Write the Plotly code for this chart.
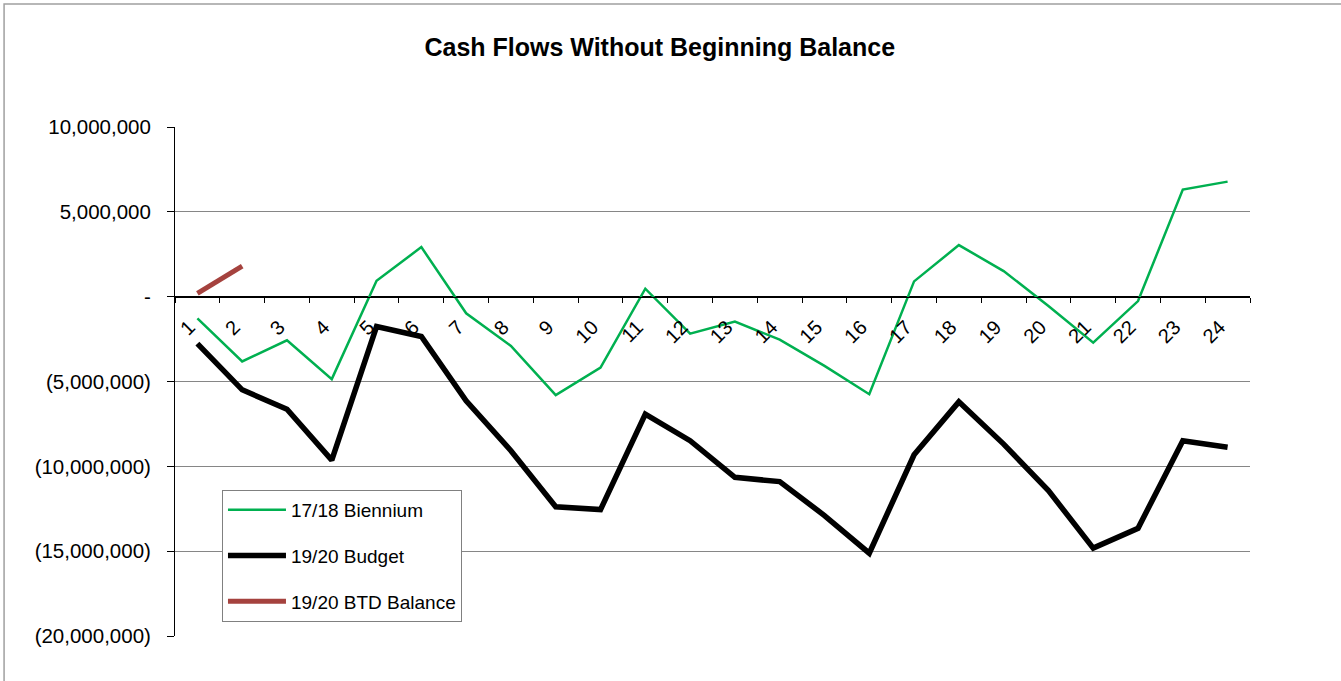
"""Cash flows without beginning balance - line chart."""
import plotly.graph_objects as go

# ---- data -----------------------------------------------------------------
months = [str(i) for i in range(1, 25)]

biennium_17_18 = [
    -1_280_000, -3_820_000, -2_570_000, -4_860_000, 940_000, 2_920_000,
    -980_000, -2_900_000, -5_800_000, -4_180_000, 470_000, -2_180_000,
    -1_470_000, -2_530_000, -4_080_000, -5_750_000, 900_000, 3_040_000,
    1_510_000, -550_000, -2_710_000, -260_000, 6_310_000, 6_780_000,
]
budget_19_20 = [
    -2_770_000, -5_490_000, -6_630_000, -9_630_000, -1_760_000, -2_350_000,
    -6_140_000, -9_080_000, -12_380_000, -12_550_000, -6_920_000, -8_490_000,
    -10_650_000, -10_900_000, -12_900_000, -15_120_000, -9_320_000, -6_200_000,
    -8_690_000, -11_430_000, -14_820_000, -13_650_000, -8_490_000, -8_880_000,
]
btd_balance_19_20 = [190_000, 1_800_000]

y_ticks = [10_000_000, 5_000_000, 0, -5_000_000, -10_000_000, -15_000_000, -20_000_000]
y_tick_text = ["10,000,000", "5,000,000", "-", "(5,000,000)", "(10,000,000)",
               "(15,000,000)", "(20,000,000)"]

# ---- style ----------------------------------------------------------------
FONT = "Arial, 'Liberation Sans', sans-serif"
GREEN = "#00B050"
BLACK = "#000000"
RED = "#A5423E"
GRID = "#868686"

Y_MIN, Y_MAX = -20_000_000, 10_000_000

fig = go.Figure()
fig.add_trace(go.Scatter(x=months, y=biennium_17_18, mode="lines", name="17/18 Biennium",
                         legendgroup="a", line=dict(color=GREEN, width=2.5)))
fig.add_trace(go.Scatter(x=months, y=budget_19_20, mode="lines", name="19/20 Budget",
                         legendgroup="b", line=dict(color=BLACK, width=5.5)))
fig.add_trace(go.Scatter(x=months[:len(btd_balance_19_20)], y=btd_balance_19_20,
                         mode="lines", name="19/20 BTD Balance", legendgroup="c",
                         line=dict(color=RED, width=5)))

# category axis crosses the value axis at zero, as in the spreadsheet chart
zero_pos = (0 - Y_MIN) / (Y_MAX - Y_MIN)

fig.update_layout(
    width=1341, height=681,
    paper_bgcolor="white", plot_bgcolor="white",
    margin=dict(l=175, r=91, t=127, b=45),
    font=dict(family=FONT, color="black"),
    title=dict(text="<b>Cash Flows Without Beginning Balance</b>",
               font=dict(size=25, family=FONT, color="black"),
               x=0.492, xanchor="center", xref="container",
               y=0.931, yanchor="middle", yref="container"),
    showlegend=True,
    legend=dict(x=0.0437, y=0.287, xanchor="left", yanchor="top",
                bgcolor="white", bordercolor="#808080", borderwidth=1,
                font=dict(size=19, family=FONT, color="black"),
                itemwidth=58, tracegroupgap=18, traceorder="grouped"),
    hovermode=False,
    xaxis=dict(type="category", anchor="free", position=zero_pos,
               showline=True, linecolor="black", linewidth=1,
               showgrid=False, ticks="outside", tickson="boundaries",
               ticklen=5, tickcolor="black", tickangle=-45,
               ticklabelstandoff=10, ticklabelshift=-8,
               tickfont=dict(size=20, family=FONT, color="black"),
               range=[-0.5, 23.5]),
    yaxis=dict(range=[Y_MIN, Y_MAX], tickvals=y_ticks, ticktext=y_tick_text,
               showline=True, linecolor="black", linewidth=1,
               showgrid=True, gridcolor=GRID, gridwidth=1,
               zeroline=True, zerolinecolor="black", zerolinewidth=1,
               ticks="outside", ticklen=7, tickcolor="black",
               ticklabelstandoff=12,
               tickfont=dict(size=20.5, family=FONT, color="black")),
)

# thin frame around the chart area
fig.add_shape(type="rect", xref="paper", yref="paper",
              x0=-0.159, x1=1.2, y0=-0.2, y1=1.2417,
              line=dict(color="#A0A0A0", width=1.5), layer="below")

# page has a default body margin; drop it so the figure sits at the window corner
fig.write_html("out.html", config={"displayModeBar": False},
               post_script="document.body.style.margin='0';"
                           "document.body.style.overflow='hidden';")
